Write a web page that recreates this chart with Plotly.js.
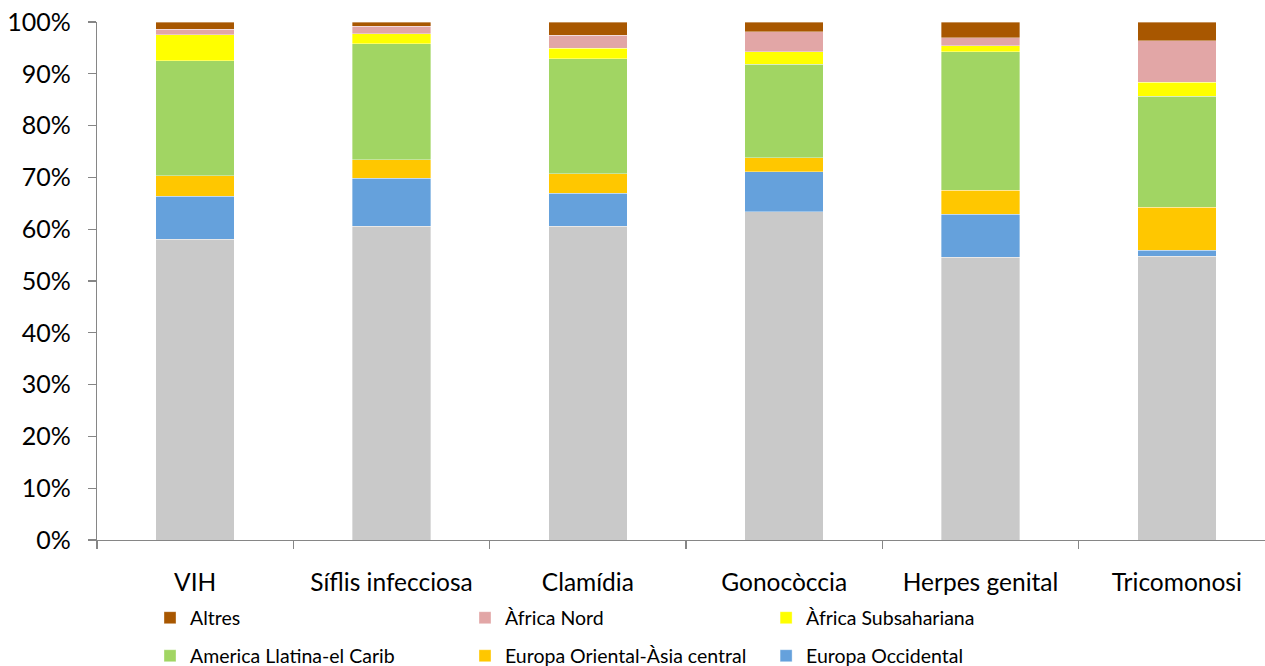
<!DOCTYPE html>
<html>
<head>
<meta charset="utf-8">
<script src="https://cdn.plot.ly/plotly-3.0.1.min.js"></script>
<style>
html,body{margin:0;padding:0;overflow:hidden;background:#fff;}
#chart{width:1290px;height:666px;}
</style>
</head>
<body>
<div id="chart"></div>
<script>
var categories = ["VIH", "Síflis infecciosa", "Clamídia", "Gonocòccia", "Herpes genital", "Tricomonosi"];

var espanya        = [58.1, 60.6, 60.6, 63.4, 54.6, 54.8];
var europaOcc      = [8.3, 9.2, 6.3, 7.7, 8.3, 1.1];
var europaOriental = [3.9, 3.6, 3.8, 2.7, 4.6, 8.3];
var americaLlatina = [22.2, 22.4, 22.2, 18.0, 26.8, 21.5];
var africaSub      = [5.0, 1.9, 2.0, 2.5, 1.1, 2.7];
var africaNord     = [1.1, 1.5, 2.5, 3.8, 1.6, 8.0];
var altres         = [1.4, 0.8, 2.6, 1.9, 3.0, 3.6];

var seriesNames = ["", "Europa Occidental", "Europa Oriental-Àsia central", "America Llatina-el Carib", "Àfrica Subsahariana", "Àfrica Nord", "Altres"];
var seriesData = [espanya, europaOcc, europaOriental, americaLlatina, africaSub, africaNord, altres];
var seriesColors = ["#C9C9C9", "#65A1DC", "#FFC700", "#A1D563", "#FFFF00", "#E2A6A6", "#A85700"];
var legendIds = [null, "legend6", "legend5", "legend4", "legend3", "legend2", "legend"];

var traces = seriesData.map(function (vals, i) {
  var t = {
    type: "bar",
    x: categories,
    y: vals,
    name: seriesNames[i],
    marker: {color: seriesColors[i], line: {width: 0.6, color: "rgba(255,255,255,0.6)"}},
    hoverinfo: "x+y+name"
  };
  if (legendIds[i] === null) { t.showlegend = false; } else { t.legend = legendIds[i]; }
  return t;
});

var legFont = {family: "Lato, sans-serif", size: 19.5, color: "#000"};
function leg(x, y) {
  return {x: x, y: y, xanchor: "left", yanchor: "middle", xref: "paper", yref: "paper",
          font: legFont, bgcolor: "rgba(0,0,0,0)", orientation: "v"};
}

var layout = {
  width: 1290,
  height: 666,
  margin: {l: 97, r: 15, t: 22, b: 126, autoexpand: false},
  paper_bgcolor: "#fff",
  plot_bgcolor: "#fff",
  barmode: "stack",
  bargap: 0.6,
  font: {family: "Lato, sans-serif", size: 24, color: "#000"},
  xaxis: {
    type: "category",
    showline: true, linecolor: "#868686", linewidth: 1.3,
    ticks: "outside", tickson: "boundaries", ticklen: 8, tickcolor: "#868686", tickwidth: 1.3,
    ticklabelstandoff: 20,
    tickfont: {size: 24.5, color: "#000"},
    showgrid: false, zeroline: false
  },
  yaxis: {
    range: [0, 100], dtick: 10, ticksuffix: "%",
    showline: true, linecolor: "#868686", linewidth: 1.3,
    ticks: "outside", ticklen: 8, tickcolor: "#868686", tickwidth: 1.3,
    ticklabelstandoff: 12,
    tickfont: {size: 25, color: "#000"},
    showgrid: false, zeroline: false
  },
  legend:  leg(0.045, -0.1506),
  legend2: leg(0.3124, -0.1506),
  legend3: leg(0.568, -0.1506),
  legend4: leg(0.045, -0.224),
  legend5: leg(0.3124, -0.224),
  legend6: leg(0.568, -0.224)
};

Plotly.newPlot("chart", traces, layout, {displayModeBar: false, staticPlot: true});
</script>
</body>
</html>
